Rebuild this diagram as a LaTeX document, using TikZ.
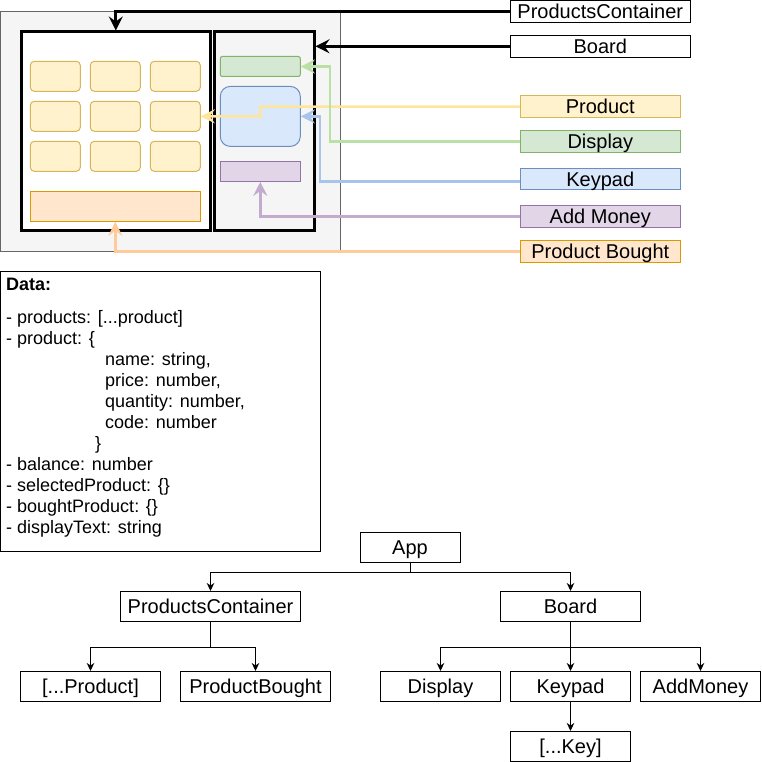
\documentclass[tikz,border=0pt]{standalone}
\usepackage{fontspec}
\setmainfont{Liberation Sans}
\usetikzlibrary{arrows.meta}

\definecolor{frameFill}{HTML}{F5F5F5}
\definecolor{frameLine}{HTML}{666666}
\definecolor{prodFill}{HTML}{FFF2CC}
\definecolor{prodLine}{HTML}{D6B656}
\definecolor{boughtFill}{HTML}{FFE6CC}
\definecolor{boughtLine}{HTML}{D79B00}
\definecolor{dispFill}{HTML}{D5E8D4}
\definecolor{dispLine}{HTML}{82B366}
\definecolor{padFill}{HTML}{DAE8FC}
\definecolor{padLine}{HTML}{6C8EBF}
\definecolor{moneyFill}{HTML}{E1D5E7}
\definecolor{moneyLine}{HTML}{9673A6}
\definecolor{prodWire}{HTML}{FFE599}
\definecolor{dispWire}{HTML}{B9E0A5}
\definecolor{padWire}{HTML}{A9C4EB}
\definecolor{moneyWire}{HTML}{C3ABD0}
\definecolor{boughtWire}{HTML}{FFCC99}

\begin{document}
\begin{tikzpicture}[x=1pt,y=-1pt,
  every node/.style={inner sep=0pt},
  frame/.style={draw=frameLine, fill=frameFill, line width=1pt},
  part/.style={draw=black, line width=3pt},
  cell/.style={draw=prodLine, fill=prodFill, line width=1pt, rounded corners=4pt,
    minimum width=50pt, minimum height=30pt},
  label text/.style={font=\fontsize{20}{24}\selectfont, text height=18pt, text depth=3.7pt},
  tag/.style={draw=black, line width=1pt, minimum height=20pt, label text},
  tnode/.style={draw=black, fill=white, line width=1pt, minimum height=30pt, label text},
  thickwire/.style={line width=3pt, -{Stealth[length=14pt,width=14pt,inset=5pt]}},
  tintwire/.style={line width=2.5pt, -{Stealth[length=14pt,width=14pt,inset=5pt]}},
  treewire/.style={line width=1pt, -{Stealth[length=8pt,width=7.5pt,inset=2.5pt]}},
  datatext/.style={align=left, font=\fontsize{18}{21}\selectfont}]

\useasboundingbox (0,0) rectangle (761,762);

% ---------- screen mock-up ----------
\node[frame, minimum width=339.5pt, minimum height=239pt] (frame) at (170.25,131.5) {};
\node[part, fill=white, minimum width=189pt, minimum height=198.3pt] (pcbox) at (115.8,131.15) {};
\node[part, minimum width=99.3pt, minimum height=198.3pt] (boardbox) at (264.35,131.15) {};

\foreach \r/\yy in {1/76.3,2/116.3,3/156.3}
  \foreach \c/\xx in {1/55.3,2/115.3,3/175.3}
    \node[cell] (cell\r\c) at (\xx,\yy) {};

\node[draw=boughtLine, fill=boughtFill, line width=1pt, minimum width=170pt, minimum height=30pt] (bought) at (115.3,206.3) {};
\node[draw=dispLine, fill=dispFill, line width=1pt, rounded corners=2pt, minimum width=80pt, minimum height=20pt] (display) at (260.3,66.5) {};
\node[draw=padLine, fill=padFill, line width=1pt, rounded corners=10pt, minimum width=80pt, minimum height=60pt] (keypad) at (260.3,116.4) {};
\node[draw=moneyLine, fill=moneyFill, line width=1pt, minimum width=80pt, minimum height=20pt] (addmoney) at (260.3,171.4) {};

% ---------- legend ----------
\node[tag, fill=white, minimum width=180pt] (tagPC) at (600.3,11.5) {ProductsContainer};
\node[tag, fill=white, minimum width=180pt] (tagBoard) at (600.3,46.3) {Board};
\node[tag, draw=prodLine, fill=prodFill, minimum width=160pt] (tagProduct) at (600.3,106.7) {Product};
\node[tag, draw=dispLine, fill=dispFill, minimum width=160pt] (tagDisplay) at (600.3,141.3) {Display};
\node[tag, draw=padLine, fill=padFill, minimum width=160pt] (tagKeypad) at (600.3,179) {Keypad};
\node[tag, draw=moneyLine, fill=moneyFill, minimum width=160pt] (tagMoney) at (600.3,216.3) {Add Money};
\node[tag, draw=boughtLine, fill=boughtFill, minimum width=160pt] (tagBought) at (600.3,251.3) {Product Bought};

\coordinate (dispBend) at (330,0);
\coordinate (padBend) at (320,0);

\draw[thickwire] (tagPC.west) -| (pcbox.north);
\draw[thickwire] (tagBoard.west) -- (boardbox.east |- tagBoard.west);
\draw[tintwire, color=prodWire] (tagProduct.west) -| (keypad.center) -- (cell23.east);
\draw[tintwire, color=dispWire] (tagDisplay.west) -| (dispBend |- display.east) -- (display.east);
\draw[tintwire, color=padWire] ([yshift=-2.5pt]tagKeypad.west) -| (padBend |- keypad.east) -- (keypad.east);
\draw[tintwire, color=moneyWire] (tagMoney.west) -| (addmoney.south);
\draw[tintwire, color=boughtWire] (tagBought.west) -| (bought.south);

% ---------- data model ----------
\node[draw=black, line width=1pt, minimum width=319.5pt, minimum height=280pt] (databox) at (160.25,411) {};
% the base anchor of a multi-line node sits on its last line
\node[datatext, anchor=base west] (datatext) at (6,533) {\textbf{Data:}\\[12pt]
- products: [...product]\\
- product: \{\\
\hspace*{99pt}name: string,\\
\hspace*{99pt}price: number,\\
\hspace*{99pt}quantity: number,\\
\hspace*{99pt}code: number\\
\hspace*{89pt}\}\\
- balance: number\\
- selectedProduct: \{\}\\
- boughtProduct: \{\}\\
- displayText: string};

% ---------- component tree ----------
\node[tnode, minimum width=100pt] (app) at (410,547) {App};
\node[tnode, minimum width=180pt] (tpc) at (210.5,606.5) {ProductsContainer};
\node[tnode, minimum width=140pt] (tboard) at (570.5,606.5) {Board};
\node[tnode, minimum width=140pt] (tproduct) at (90.5,686.5) {[...Product]};
\node[tnode, minimum width=150pt] (tbought) at (255.5,686.5) {ProductBought};
\node[tnode, minimum width=120pt] (tdisplay) at (440.5,686.5) {Display};
\node[tnode, minimum width=120pt] (tkeypad) at (570.5,686.5) {Keypad};
\node[tnode, minimum width=120pt] (tmoney) at (700.5,686.5) {AddMoney};
\node[tnode, minimum width=120pt] (tkey) at (570.5,746.5) {[...Key]};

\coordinate (busTop) at (0,572);
\coordinate (busMid) at (0,647);

\draw[treewire] (app.south) -- (app.south |- busTop) -| (tpc.north);
\draw[treewire] (app.south) -- (app.south |- busTop) -| (tboard.north);
\draw[treewire] (tpc.south) -- (tpc.south |- busMid) -| (tproduct.north);
\draw[treewire] (tpc.south) -- (tpc.south |- busMid) -| (tbought.north);
\draw[treewire] (tboard.south) -- (tboard.south |- busMid) -| (tdisplay.north);
\draw[treewire] (tboard.south) -- (tkeypad.north);
\draw[treewire] (tboard.south) -- (tboard.south |- busMid) -| (tmoney.north);
\draw[treewire] (tkeypad.south) -- (tkey.north);
\end{tikzpicture}
\end{document}
